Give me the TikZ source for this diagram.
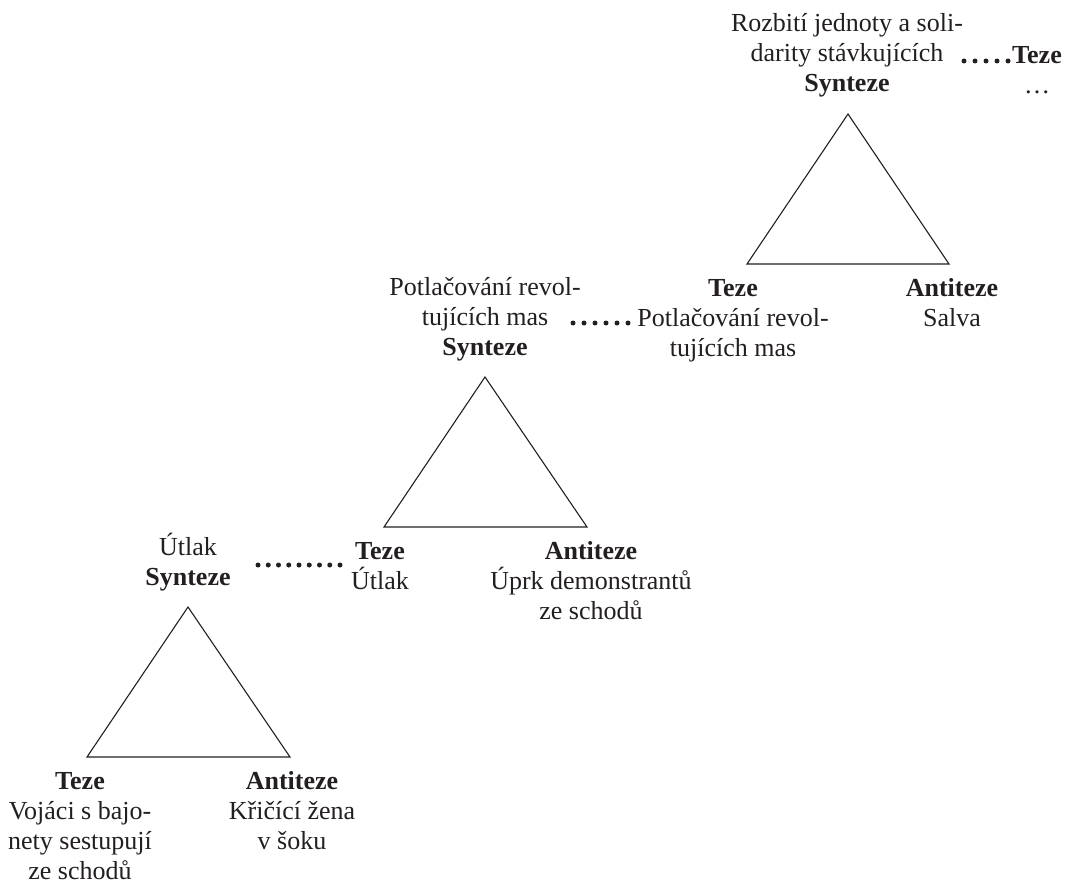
\documentclass[tikz,border=0pt]{standalone}
\usepackage{fontspec}
\setmainfont{Liberation Serif}
\definecolor{ink}{HTML}{231F20}
\newcommand\lnstrut{\rule{0pt}{26pt}}
\begin{document}
\begin{tikzpicture}[x=1pt,y=-1pt,
  lbl/.style={align=center, inner sep=0pt, anchor=north, text=ink,
    font=\fontsize{26}{30}\selectfont},
  tri/.style={draw=ink, line width=1.1pt, line join=miter},
  dotrow/.style={draw=ink, line width=5pt, line cap=round, dash pattern=on 0pt off #1}]
\useasboundingbox (0,0) rectangle (1066,888);

% triangle corners
\coordinate (A1) at (188,607); \coordinate (L1) at (87,757);  \coordinate (R1) at (290,757);
\coordinate (A2) at (485,377); \coordinate (L2) at (384,527); \coordinate (R2) at (587,527);
\coordinate (A3) at (848,114); \coordinate (L3) at (747,264); \coordinate (R3) at (949,264);

\draw[tri] (A1) -- (L1) -- (R1) -- cycle;
\draw[tri] (A2) -- (L2) -- (R2) -- cycle;
\draw[tri] (A3) -- (L3) -- (R3) -- cycle;

% labels, triangle 1
\node[lbl] (s1) at (188,529.5) {\lnstrut Útlak\\\textbf{Synteze}};
\node[lbl] (t1) at (80,763) {\lnstrut\textbf{Teze}\\Vojáci s bajo-\\nety sestupují\\ze schodů};
\node[lbl] (a1) at (292,763) {\lnstrut\textbf{Antiteze}\\Křičící žena\\v šoku};

% labels, triangle 2
\node[lbl] (s2) at (485,269) {\lnstrut Potlačování revol-\\tujících mas\\\textbf{Synteze}};
\node[lbl] (t2) at (380,533) {\lnstrut\textbf{Teze}\\Útlak};
\node[lbl] (a2) at (591,533) {\lnstrut\textbf{Antiteze}\\Úprk demonstrantů\\ze schodů};

% labels, triangle 3
\node[lbl] (s3) at (847,5) {\lnstrut Rozbití jednoty a soli-\\darity stávkujících\\\textbf{Synteze}};
\node[lbl] (t3) at (733,270) {\lnstrut\textbf{Teze}\\Potlačování revol-\\tujících mas};
\node[lbl] (a3) at (952,270) {\lnstrut\textbf{Antiteze}\\Salva};

% next thesis
\node[lbl] (t4) at (1037,37) {\lnstrut\textbf{Teze}\\\ldots};

% dotted links from each synthesis to the next thesis
\coordinate (d1s) at (258,565);  \coordinate (d1e) at (340.3,565);
\coordinate (d2s) at (573,323);  \coordinate (d2e) at (628.3,323);
\coordinate (d3s) at (964,61);   \coordinate (d3e) at (1008.3,61);
\draw[dotrow=10.25pt] (d1s) -- (d1e);
\draw[dotrow=11pt] (d2s) -- (d2e);
\draw[dotrow=11pt] (d3s) -- (d3e);
\end{tikzpicture}
\end{document}
